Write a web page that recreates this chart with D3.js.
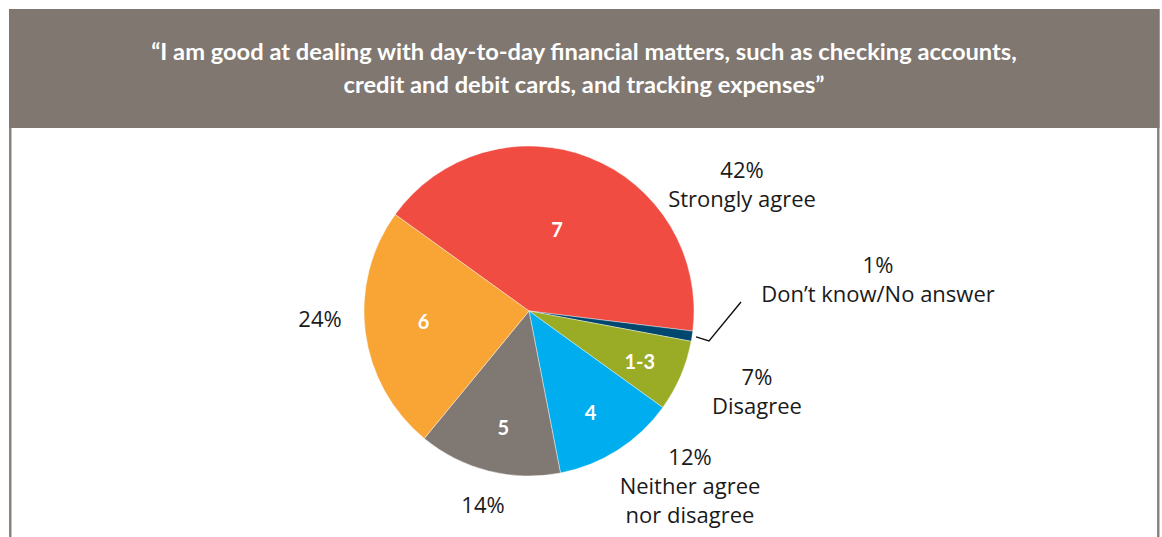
<!DOCTYPE html>
<html>
<head>
<meta charset="utf-8">
<script src="https://cdn.jsdelivr.net/npm/d3@7"></script>
<style>
html,body{margin:0;padding:0;background:#fff;}
svg{display:block;}
</style>
</head>
<body>
<svg id="chart" width="1162" height="537"></svg>
<script>
// ---- data ----
const titleLines = ["\u201CI am good at dealing with day-to-day financial matters, such as checking accounts,",
                    "credit and debit cards, and tracking expenses\u201D"];
const categories = ["7", "Don\u2019t know", "1-3", "4", "5", "6"];
const values = [42, 1, 7, 12, 14, 24];
const percentLabels = ["42%", "1%", "7%", "12%", "14%", "24%"];
const descLabels = [["Strongly agree"], ["Don\u2019t know/No answer"], ["Disagree"], ["Neither agree", "nor disagree"], [], []];
const colors = ["#f04c41", "#00476f", "#9aab26", "#00aeef", "#807873", "#f8a535"];

// ---- layout ----
const W = 1162, H = 537;
const svg = d3.select("#chart");
const headerColor = "#7f7770";
const font = "Lato, 'Open Sans', sans-serif";
const labelFont = "'Open Sans', Lato, sans-serif";

// frame side lines
svg.append("rect").attr("x", 9).attr("y", 9).attr("width", 2.5).attr("height", H - 9).attr("fill", "#8a827c");
svg.append("rect").attr("x", 1157).attr("y", 9).attr("width", 2.5).attr("height", H - 9).attr("fill", "#8a827c");
// header band
svg.append("rect").attr("x", 9).attr("y", 9).attr("width", 1150.5).attr("height", 119).attr("fill", headerColor);

const title = svg.append("g");
titleLines.forEach((t, i) => {
  title.append("text").attr("x", 584).attr("y", 60 + i * 33)
    .attr("text-anchor", "middle").attr("fill", "#fff")
    .attr("font-family", font).attr("font-weight", 700).attr("font-size", 24)
    .text(t);
});
// fit title width to 866px
(function(){
  const n = title.select("text").node();
  const w = n.getComputedTextLength();
  const fs = 24 * 866 / w;
  title.selectAll("text").attr("font-size", fs);
})();

// pie
const cx = 529, cy = 311, R = 165;
const startDeg = -54.2;
const pie = d3.pie().sort(null).value(d => d)
  .startAngle(startDeg * Math.PI / 180)
  .endAngle((startDeg + 360) * Math.PI / 180);
const arcs = pie(values);
const arc = d3.arc().innerRadius(0).outerRadius(R);
const g = svg.append("g").attr("transform", `translate(${cx},${cy})`);
g.selectAll("path").data(arcs).enter().append("path")
  .attr("d", arc).attr("fill", (d, i) => colors[i])
  .attr("stroke", "#fff").attr("stroke-width", 0.4);

// inner labels (radius per slice for placement)
const innerR = [86, null, 122, 119, 120, 106];
arcs.forEach((a, i) => {
  if (innerR[i] == null) return;
  const m = (a.startAngle + a.endAngle) / 2;
  const adj = {0: -2.4, 2: 1.6, 3: 1.4, 4: -1.8, 5: 1.4}[i] * Math.PI / 180;
  const ang = m + adj;
  const x = Math.sin(ang) * innerR[i], y = -Math.cos(ang) * innerR[i];
  g.append("text").attr("x", x).attr("y", y + 7)
    .attr("text-anchor", "middle").attr("fill", "#fff")
    .attr("font-family", font).attr("font-weight", 700).attr("font-size", 20)
    .text(categories[i]);
});

// outer labels
const outerPos = [[742, 178], [878, 273], [757, 385], [690, 465], [483, 513], [320, 327]];
const labelSize = 22;
arcs.forEach((a, i) => {
  const [x, y] = outerPos[i];
  const t = svg.append("text").attr("x", x).attr("y", y)
    .attr("text-anchor", "middle").attr("fill", "#1a1a1a")
    .attr("font-family", labelFont).attr("font-size", labelSize);
  t.append("tspan").attr("x", x).attr("y", y).text(percentLabels[i]);
  descLabels[i].forEach((l, j) => {
    t.append("tspan").attr("x", x).attr("y", y + 29 * (j + 1)).text(l);
  });
});

// leader line for the small slice
const small = arcs[1];
const mSmall = (small.startAngle + small.endAngle) / 2;
const p0 = [cx + Math.sin(mSmall) * (R + 4), cy - Math.cos(mSmall) * (R + 4)];
svg.append("path")
  .attr("d", d3.line()([p0, [709, 341], [741, 302]]))
  .attr("fill", "none").attr("stroke", "#111").attr("stroke-width", 1.4);
</script>
</body>
</html>
